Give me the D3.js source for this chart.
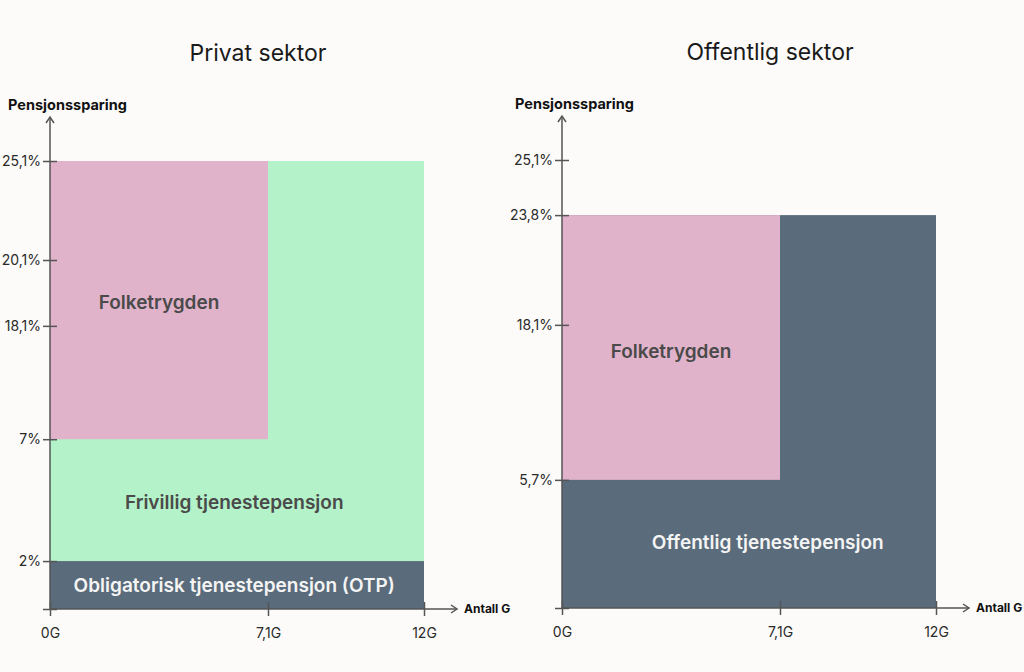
<!DOCTYPE html>
<html>
<head>
<meta charset="utf-8">
<script src="https://cdn.jsdelivr.net/npm/d3@7"></script>
<style>
  body { margin: 0; background: #fcfbf9; }
  svg { font-family: Inter, "Noto Sans", sans-serif; }
</style>
</head>
<body>
<div id="chart"></div>
<script>
// Values
var xTicks = [0, 7.1, 12];
var privatTicks = [0, 2, 7, 18.1, 20.1, 25.1];
var offentligTicks = [0, 5.7, 18.1, 23.8, 25.1];

// blocks: [label, x0, x1, y0, y1]
var privatBlocks = [
  ["Frivillig tjenestepensjon", 0, 12, 2, 25.1],
  ["Folketrygden", 0, 7.1, 7, 25.1],
  ["Obligatorisk tjenestepensjon (OTP)", 0, 12, 0, 2]
];
var offentligBlocks = [
  ["Offentlig tjenestepensjon", 0, 12, 0, 23.8],
  ["Folketrygden", 0, 7.1, 5.7, 23.8]
];
// label anchor points in data units: [x, y]
var privatLabels = [[6, 4.4], [3.55, 18.8], [6, 1]];
var offentligLabels = [[6.7, 2.9], [3.55, 16.0]];

var colors = {
  "Folketrygden": "#e1b3cb",
  "Frivillig tjenestepensjon": "#b4f2c9",
  "Obligatorisk tjenestepensjon (OTP)": "#5a6b7b",
  "Offentlig tjenestepensjon": "#5a6b7b"
};
var textColors = {
  "Folketrygden": "#4a4a4a",
  "Frivillig tjenestepensjon": "#4a4a4a",
  "Obligatorisk tjenestepensjon (OTP)": "#f4f4f4",
  "Offentlig tjenestepensjon": "#f4f4f4"
};

var W = 1024, H = 672;
var svg = d3.select("#chart").append("svg")
  .attr("width", W).attr("height", H);

var axisColor = "#555";
var plotH = 448, plotW = 374; // from origin to 25,1% / 12G

function fmt(d) { return String(d).replace(".", ","); }

function panel(ox, oy, title, ticks, yFracs, blocks, labels, yTitleX) {
  var g = svg.append("g").attr("transform", "translate(" + ox + "," + oy + ")");

  // schematic (uneven) axes, piecewise linear
  var x = d3.scaleLinear().domain(xTicks).range([0, 218, plotW]);
  var y = d3.scaleLinear().domain(ticks).range(yFracs.map(function(f) { return -f * plotH; }));

  g.append("text")
    .attr("x", 208).attr("y", -548)
    .attr("text-anchor", "middle")
    .attr("font-size", 23).attr("fill", "#1a1a1a")
    .text(title);

  g.selectAll("rect.block").data(blocks).enter().append("rect")
    .attr("class", "block")
    .attr("x", function(d) { return x(d[1]); })
    .attr("width", function(d) { return x(d[2]) - x(d[1]); })
    .attr("y", function(d) { return y(d[4]); })
    .attr("height", function(d) { return y(d[3]) - y(d[4]); })
    .attr("fill", function(d) { return colors[d[0]]; });

  g.selectAll("text.lbl").data(blocks).enter().append("text")
    .attr("class", "lbl")
    .attr("x", function(d, i) { return x(labels[i][0]); })
    .attr("y", function(d, i) { return y(labels[i][1]); })
    .attr("dy", "0.35em")
    .attr("text-anchor", "middle")
    .attr("font-size", 19).attr("font-weight", 600)
    .attr("fill", function(d) { return textColors[d[0]]; })
    .text(function(d) { return d[0]; });

  // y axis
  var ya = g.append("g").call(d3.axisLeft(y).tickValues(ticks).tickSize(7).tickPadding(2)
    .tickFormat(function(d) { return d === 0 ? "" : fmt(d) + "%"; }));
  ya.select(".domain").remove();
  ya.selectAll(".tick line").attr("x2", 7).attr("x1", -7);
  ya.selectAll(".tick text").attr("x", -9);

  // x axis
  var xa = g.append("g").call(d3.axisBottom(x).tickValues(xTicks).tickSize(7).tickPadding(12)
    .tickFormat(function(d) { return fmt(d) + "G"; }));
  xa.select(".domain").remove();
  xa.selectAll(".tick line").attr("y1", -7).attr("y2", 7);

  [ya, xa].forEach(function(a) {
    a.selectAll(".tick line").attr("stroke", axisColor).attr("stroke-width", 1.5);
    a.selectAll(".tick text").attr("font-size", 14).attr("fill", "#2a2a2a")
      .attr("font-family", "Inter, 'Noto Sans', sans-serif");
  });

  // axis lines with arrows
  var topY = -492, rightX = 407;
  g.append("line").attr("x1", 0).attr("y1", 0).attr("x2", 0).attr("y2", topY)
    .attr("stroke", axisColor).attr("stroke-width", 1.5);
  g.append("path").attr("d", "M-4," + (topY + 6) + "L0," + topY + "L4," + (topY + 6))
    .attr("fill", "none").attr("stroke", axisColor).attr("stroke-width", 1.5);
  g.append("line").attr("x1", 0).attr("y1", 0).attr("x2", rightX).attr("y2", 0)
    .attr("stroke", axisColor).attr("stroke-width", 1.5);
  g.append("path").attr("d", "M" + (rightX - 6) + ",-4L" + rightX + ",0L" + (rightX - 6) + ",4")
    .attr("fill", "none").attr("stroke", axisColor).attr("stroke-width", 1.5);

  g.append("text").attr("x", yTitleX).attr("y", topY - 7)
    .attr("font-size", 14.5).attr("font-weight", 700).attr("fill", "#111")
    .text("Pensjonssparing");
  g.append("text").attr("x", rightX + 7).attr("y", 0).attr("dy", "0.35em")
    .attr("font-size", 12).attr("font-weight", 700).attr("fill", "#111")
    .text("Antall G");
}

panel(50, 609, "Privat sektor", privatTicks,
  [0, 0.107, 0.379, 0.632, 0.779, 1], privatBlocks, privatLabels, -42);
panel(562, 608, "Offentlig sektor", offentligTicks,
  [0, 0.286, 0.632, 0.877, 1], offentligBlocks, offentligLabels, -47);
</script>
</body>
</html>
